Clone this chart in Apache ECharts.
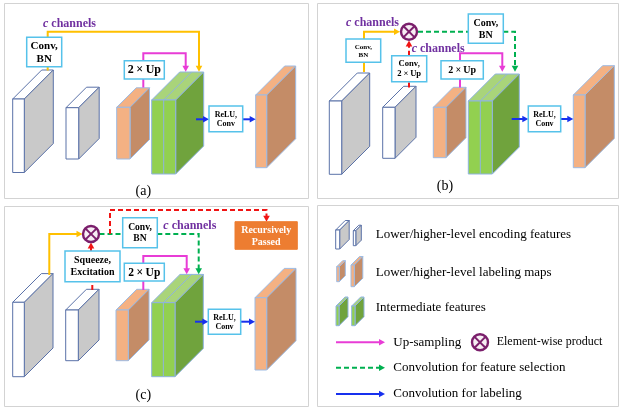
<!DOCTYPE html>
<html>
<head>
<meta charset="utf-8">
<script src="https://cdn.jsdelivr.net/npm/echarts@6/dist/echarts.min.js"></script>
<style>
html, body { margin: 0; padding: 0; background: #fff; }
#chart { width: 619px; height: 408px; }
</style>
</head>
<body>
<div id="chart"></div>
<script>
// ---- Diagram content (plot units: x 0..619, y 0..408 downward) ----

// Sub-figure frames: [left, top, right, bottom]
const panels = [[4, 3, 308, 198], [317, 3, 618, 198], [4, 206, 308, 406], [317, 205, 618, 406]];

// Feature blocks: [front left, front top, front width, height, depth, kind]
const blocks = [
  // (a)
  [12.7, 99, 11.6, 73.5, 29, 'enc'],
  [66, 107.7, 12.7, 51.3, 20.5, 'enc'],
  [116.7, 107.3, 13.3, 51.7, 19.5, 'lab'],
  [151.7, 100, 24, 74, 28, 'mid'],
  [255.7, 95, 11, 72.7, 29, 'lab'],
  // (b)
  [329.3, 101, 12.4, 73.3, 28, 'enc'],
  [382.7, 107.3, 12.3, 51, 21, 'enc'],
  [433.3, 107.3, 12.7, 50.4, 20, 'lab'],
  [468.3, 101, 24, 73, 27, 'mid'],
  [573.3, 95, 11.7, 72.7, 29.3, 'lab'],
  // (c)
  [12.7, 302.3, 11.6, 74.4, 28.7, 'enc'],
  [65.7, 310, 12.6, 50.7, 20.7, 'enc'],
  [116, 310, 12.3, 50.7, 20.7, 'lab'],
  [151.7, 302.7, 23.3, 74, 28.3, 'mid'],
  [255, 297.7, 11.7, 72.3, 29.3, 'lab'],
  // legend icons
  [335.7, 230, 4, 19, 9.5, 'enc'],
  [353.3, 230.7, 2.5, 15, 5.5, 'enc'],
  [336.7, 266.7, 2.6, 15, 6, 'lab'],
  [351, 265, 3.3, 21.7, 8.5, 'lab'],
  [336, 306, 3, 19.7, 9, 'mid1'],
  [351.7, 306, 3.3, 19.7, 9, 'mid1']
];

// Operation boxes: [left, top, right, bottom, label]
const boxes = [
  [26.7, 37.3, 61.7, 66.7, 'Conv,\nBN'],
  [124.3, 60.7, 164.3, 79, '2×Up'],
  [209, 106, 242.7, 131.7, 'ReLU,\nConv'],
  [346, 39, 380.7, 62.3, 'Conv,\nBN'],
  [391.7, 55.7, 426.7, 81.7, 'Conv,\n2×Up'],
  [468.3, 14, 503.3, 43.3, 'Conv,\nBN'],
  [441, 60.7, 483.3, 79, '2×Up'],
  [528.3, 106, 560.7, 131.7, 'ReLU,\nConv'],
  [65, 251, 120, 281.7, 'Squeeze,\nExcitation'],
  [122.7, 217.7, 157.3, 247.7, 'Conv,\nBN'],
  [124.3, 263.3, 164.3, 281, '2×Up'],
  [208.3, 309.3, 240.7, 334.3, 'ReLU,\nConv'],
  [235, 221.7, 297.3, 249.3, 'Recursively\nPassed']
];
const boxFontSizes = [11, 12, 8, 7, 8.6, 10, 10, 8, 10, 9.6, 11.5, 8, 10];

// Connectors: [flow, ends with arrow head, points]
const links = [
  // (a)
  ['skip', false, [[47.7, 70.5], [47.7, 66.7]]],
  ['skip', true, [[47.7, 37.3], [47.7, 31.7], [199, 31.7], [199, 71.7]]],
  ['up', false, [[143.3, 87.5], [143.3, 79]]],
  ['up', true, [[143.3, 60.7], [143.3, 53.3], [185.7, 53.3], [185.7, 71.7]]],
  ['label', true, [[196, 119.3], [209, 119.3]]],
  ['label', true, [[242.7, 119.3], [255.7, 119.3]]],
  // (b)
  ['skip', false, [[364, 72], [364, 62.3]]],
  ['skip', true, [[364, 39], [364, 31.7], [400, 31.7]]],
  ['guide', false, [[409, 87.5], [409, 81.7]]],
  ['guide', true, [[409, 55.7], [409, 40.5]]],
  ['select', false, [[418, 31.7], [468.3, 31.7]]],
  ['select', true, [[503.3, 31.7], [515, 31.7], [515, 71.7]]],
  ['up', false, [[460, 87.5], [460, 79]]],
  ['up', true, [[460, 60.7], [460, 53.3], [502.3, 53.3], [502.3, 71.7]]],
  ['label', true, [[511.7, 119], [528.3, 119]]],
  ['label', true, [[560.7, 119], [573.3, 119]]],
  // (c)
  ['skip', true, [[49.3, 275], [49.3, 234], [82.5, 234]]],
  ['guide', false, [[92.3, 290], [92.3, 281.7]]],
  ['guide', true, [[91, 251], [91, 242.5]]],
  ['select', false, [[99.5, 234], [122.7, 234]]],
  ['select', true, [[157.3, 234], [198.7, 234], [198.7, 274.3]]],
  ['guide', true, [[110, 234], [110, 210], [266.5, 210], [266.5, 221.7]]],
  ['up', false, [[143.3, 290], [143.3, 281]]],
  ['up', true, [[143.3, 263.3], [143.3, 256], [186.7, 256], [186.7, 274.3]]],
  ['label', true, [[195, 321.7], [208.3, 321.7]]],
  ['label', true, [[240.7, 321.7], [255, 321.7]]],
  // legend
  ['up', true, [[336, 342.3], [385, 342.3]]],
  ['select', true, [[336, 367.7], [385, 367.7]]],
  ['label', true, [[336, 394], [385, 394]]]
];

// Element-wise product markers: [centre x, centre y]
const products = [[409, 31.7], [91, 234], [480, 342.3]];

// "c channels" annotations: [left x, middle y]
const channelNotes = [[43, 24], [346, 23.3], [411.7, 49], [163.3, 225.7]];

// Sub-figure captions: [text, centre x, middle y]
const captions = [['(a)', 143.3, 191.5], ['(b)', 445, 186.5], ['(c)', 143.3, 395.5]];

// Legend entries: [text, left x, middle y]
const legendTexts = [
  ['Lower/higher-level encoding features', 375.7, 234.3],
  ['Lower/higher-level labeling maps', 375.7, 272.3],
  ['Intermediate features', 375.7, 307.7],
  ['Up-sampling', 393.3, 342.3],
  ['Element-wise product', 496.7, 342.3],
  ['Convolution for feature selection', 393.3, 367.7],
  ['Convolution for labeling', 393.3, 394]
];
const legendFontSizes = [13, 13, 13, 13, 12, 13, 13];

// ---- Styles ----
const SERIF = '"Liberation Serif", "Times New Roman", serif';
const BLOCK_STYLE = {
  enc: { front: '#ffffff', top: '#ffffff', side: '#c9c9c9', stroke: '#5b72a8' },
  lab: { front: '#f4b183', top: '#f4b183', side: '#c48c67', stroke: '#9dbbe3' },
  mid: { front: '#92d050', top: '#a9d47a', side: '#70a33d', stroke: '#8fb3e0' },
  mid1: { front: '#92d050', top: '#a9d47a', side: '#70a33d', stroke: '#8fb3e0' }
};
const LINK_STYLE = {
  skip: { color: '#ffc000', width: 2, dash: null },
  up: { color: '#e83cd6', width: 2, dash: null },
  label: { color: '#1730ee', width: 2, dash: null },
  select: { color: '#00b050', width: 2, dash: [5, 3] },
  guide: { color: '#f01414', width: 2, dash: [5, 3] }
};
const BOX_STROKE = '#56c2ea';
const ACCENT_FILL = '#ed7d31';
const PURPLE = '#7030a0';
const PRODUCT_COLOR = '#7b1f6c';

// Turns "2×Up" style labels into rich text with a full-width multiplication sign
function richLabel(str) {
  return str.split('\n').map(function (line) {
    return line.split('×').map(function (s) { return s ? '{n|' + s + '}' : ''; }).join('{x|×}');
  }).join('\n');
}

const chart = echarts.init(document.getElementById('chart'), null, { renderer: 'canvas' });

function renderPanel(params, api) {
  const p = panels[params.dataIndex];
  const a = api.coord([p[0], p[1]]), b = api.coord([p[2], p[3]]);
  return {
    type: 'rect',
    shape: { x: a[0] + 0.5, y: a[1] + 0.5, width: b[0] - a[0], height: b[1] - a[1] },
    style: { fill: null, stroke: '#d3d3d3', lineWidth: 1 }
  };
}

function renderBlock(params, api) {
  const b = blocks[params.dataIndex];
  const x = b[0], y = b[1], w = b[2], h = b[3], d = b[4], kind = b[5];
  const s = BLOCK_STYLE[kind];
  const c = function (px, py) { return api.coord([px, py]); };
  const st = function (fill) { return { fill: fill, stroke: s.stroke, lineWidth: 1, lineJoin: 'round' }; };
  const children = [
    { type: 'polygon', shape: { points: [c(x, y), c(x + d, y - d), c(x + w + d, y - d), c(x + w, y)] }, style: st(s.top) },
    { type: 'polygon', shape: { points: [c(x + w, y), c(x + w + d, y - d), c(x + w + d, y + h - d), c(x + w, y + h)] }, style: st(s.side) },
    { type: 'polygon', shape: { points: [c(x, y), c(x + w, y), c(x + w, y + h), c(x, y + h)] }, style: st(s.front) }
  ];
  if (kind === 'mid') {
    const m = x + w / 2;
    children.push({ type: 'line', shape: { x1: c(m, y)[0], y1: c(m, y)[1], x2: c(m, y + h)[0], y2: c(m, y + h)[1] }, style: { stroke: s.stroke, lineWidth: 1 } });
    children.push({ type: 'line', shape: { x1: c(m, y)[0], y1: c(m, y)[1], x2: c(m + d, y - d)[0], y2: c(m + d, y - d)[1] }, style: { stroke: s.stroke, lineWidth: 1 } });
  }
  return { type: 'group', children: children };
}

function renderLink(params, api) {
  const l = links[params.dataIndex];
  const s = LINK_STYLE[l[0]];
  const px = l[2].map(function (p) { return api.coord(p); });
  const line = px.slice();
  const children = [];
  if (l[1]) {
    const a = px[px.length - 2], b = px[px.length - 1];
    const dx = b[0] - a[0], dy = b[1] - a[1], L = Math.hypot(dx, dy);
    const ux = dx / L, uy = dy / L, hl = 6, hw = 3.3;
    const base = [b[0] - ux * hl, b[1] - uy * hl];
    line[line.length - 1] = [b[0] - ux * (hl - 1), b[1] - uy * (hl - 1)];
    children.push({
      type: 'polygon',
      shape: { points: [b, [base[0] - uy * hw, base[1] + ux * hw], [base[0] + uy * hw, base[1] - ux * hw]] },
      style: { fill: s.color }
    });
  }
  children.unshift({
    type: 'polyline',
    shape: { points: line },
    style: { stroke: s.color, lineWidth: s.width, lineDash: s.dash, fill: null }
  });
  return { type: 'group', children: children };
}

function renderBox(params, api) {
  const b = boxes[params.dataIndex];
  const fs = boxFontSizes[params.dataIndex];
  const accent = b[4].indexOf('Recursively') === 0;
  const a = api.coord([b[0], b[1]]), e = api.coord([b[2], b[3]]);
  const lh = Math.round(fs * 1.18);
  const color = accent ? '#ffffff' : '#000000';
  return {
    type: 'group',
    children: [
      {
        type: 'rect',
        shape: { x: a[0], y: a[1], width: e[0] - a[0], height: e[1] - a[1] },
        style: accent ? { fill: ACCENT_FILL, stroke: ACCENT_FILL, lineWidth: 1 } : { fill: '#ffffff', stroke: BOX_STROKE, lineWidth: 1.5 }
      },
      {
        type: 'text',
        style: {
          x: (a[0] + e[0]) / 2, y: (a[1] + e[1]) / 2 + 0.5,
          text: richLabel(b[4]),
          align: 'center', verticalAlign: 'middle',
          rich: {
            n: { fontFamily: SERIF, fontWeight: 'bold', fontSize: fs, lineHeight: lh, fill: color },
            x: { fontFamily: SERIF, fontWeight: 'bold', fontSize: fs, lineHeight: lh, fill: color, width: fs, align: 'center' }
          }
        }
      }
    ]
  };
}

function renderProduct(params, api) {
  const p = api.coord(products[params.dataIndex]);
  const r = 8, k = r * 0.7071;
  return {
    type: 'group',
    children: [
      { type: 'circle', shape: { cx: p[0], cy: p[1], r: r }, style: { fill: '#f7eef4', stroke: PRODUCT_COLOR, lineWidth: 2.4 } },
      { type: 'line', shape: { x1: p[0] - k, y1: p[1] - k, x2: p[0] + k, y2: p[1] + k }, style: { stroke: PRODUCT_COLOR, lineWidth: 2 } },
      { type: 'line', shape: { x1: p[0] - k, y1: p[1] + k, x2: p[0] + k, y2: p[1] - k }, style: { stroke: PRODUCT_COLOR, lineWidth: 2 } }
    ]
  };
}

function renderChannelNote(params, api) {
  const p = api.coord(channelNotes[params.dataIndex]);
  return {
    type: 'text',
    style: {
      x: p[0], y: p[1], text: '{i|c}{b| channels}', align: 'left', verticalAlign: 'middle',
      rich: {
        i: { fontFamily: SERIF, fontWeight: 'bold', fontStyle: 'italic', fontSize: 12, fill: PURPLE },
        b: { fontFamily: SERIF, fontWeight: 'bold', fontSize: 12, fill: PURPLE }
      }
    }
  };
}

function renderCaption(params, api) {
  const c = captions[params.dataIndex];
  const p = api.coord([c[1], c[2]]);
  return {
    type: 'text',
    style: { x: p[0], y: p[1], text: c[0], align: 'center', verticalAlign: 'middle', font: '14px ' + SERIF, fill: '#000' }
  };
}

function renderLegendText(params, api) {
  const t = legendTexts[params.dataIndex];
  const p = api.coord([t[1], t[2]]);
  return {
    type: 'text',
    style: { x: p[0], y: p[1], text: t[0], align: 'left', verticalAlign: 'middle', font: legendFontSizes[params.dataIndex] + 'px ' + SERIF, fill: '#000' }
  };
}

function series(name, arr, fn, z) {
  return {
    type: 'custom', name: name, renderItem: fn, z: z, silent: true,
    data: arr.map(function (_, i) { return [0, 0, i]; }),
    encode: { x: 0, y: 1 }
  };
}

chart.setOption({
  animation: false,
  backgroundColor: '#ffffff',
  grid: { left: 0, right: 0, top: 0, bottom: 0 },
  xAxis: { type: 'value', min: 0, max: 619, show: false },
  yAxis: { type: 'value', min: 0, max: 408, inverse: true, show: false },
  series: [
    series('panels', panels, renderPanel, 1),
    series('blocks', blocks, renderBlock, 2),
    series('links', links, renderLink, 3),
    series('boxes', boxes, renderBox, 4),
    series('products', products, renderProduct, 5),
    series('channels', channelNotes, renderChannelNote, 6),
    series('captions', captions, renderCaption, 6),
    series('legend', legendTexts, renderLegendText, 6)
  ]
});
</script>
</body>
</html>
